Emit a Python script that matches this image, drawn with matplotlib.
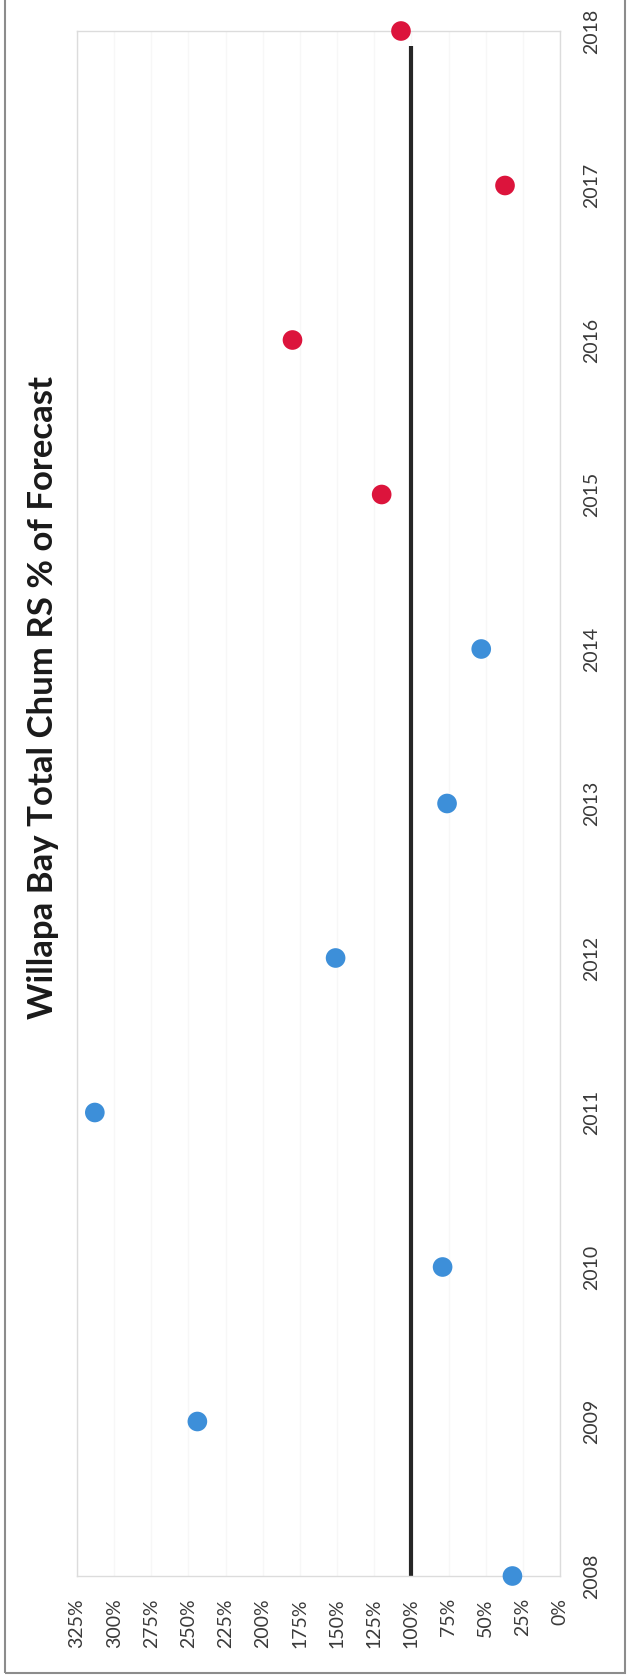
import matplotlib.pyplot as plt
import matplotlib.patches as patches

# --- data ---
years_blue = [2008, 2009, 2010, 2011, 2012, 2013, 2014]
pct_blue = [32, 244, 79, 313, 151, 76, 53]
years_red = [2015, 2016, 2017, 2018]
pct_red = [120, 180, 37, 107]
forecast_line_years = [2008, 2017.9]
forecast_line_pct = [100, 100]

pct_ticks = list(range(0, 326, 25))
year_ticks = list(range(2008, 2019))
title = 'Willapa Bay Total Chum RS % of Forecast'

plt.rcParams['font.family'] = ['Lato', 'DejaVu Sans']

# --- figure: the scan is rotated 90 degrees, so years run up the page ---
fig = plt.figure(figsize=(6.29, 16.8), dpi=100)
fig.patch.set_facecolor('white')
ax = fig.add_axes([77 / 629, 104 / 1680, 483 / 629, 1545 / 1680])

ax.plot(forecast_line_pct, forecast_line_years, color='#262626', lw=3.0,
        solid_capstyle='butt', zorder=2)
ax.scatter(pct_blue, years_blue, s=200, color='#3d8fd9', edgecolors='none',
           zorder=3, clip_on=False)
ax.scatter(pct_red, years_red, s=200, color='#dc143c', edgecolors='none',
           zorder=3, clip_on=False)

ax.set_xlim(325, 0)
ax.set_ylim(2008, 2018)

ax.set_xticks(pct_ticks)
ax.set_xticklabels([f'{v}%' for v in pct_ticks], rotation=90, fontsize=14,
                   color='#3a3a3a')
ax.set_yticks(year_ticks)
ax.set_yticklabels([str(y) for y in year_ticks], rotation=90, fontsize=14,
                   color='#3a3a3a', va='center')
ax.yaxis.tick_right()
ax.tick_params(axis='x', length=0, pad=16)
ax.tick_params(axis='y', length=0, pad=17)

ax.grid(axis='x', color='#f7f7f7', lw=1.0)
ax.set_axisbelow(True)
for side in ax.spines.values():
    side.set_color('#dcdcdc')
    side.set_linewidth(1.0)

fig.text(43 / 629, 1 - 697 / 1680, title, rotation=90, ha='center',
         va='center', fontsize=25, fontweight='bold', color='#1a1a1a')

# outer frame of the scanned page
frame = patches.Rectangle((5 / 629, 7 / 1680), 620 / 629, 1.0,
                          transform=fig.transFigure, fill=False,
                          edgecolor='#8c8c8c', lw=1.5)
fig.patches.append(frame)

fig.savefig('out.png', dpi=100)
